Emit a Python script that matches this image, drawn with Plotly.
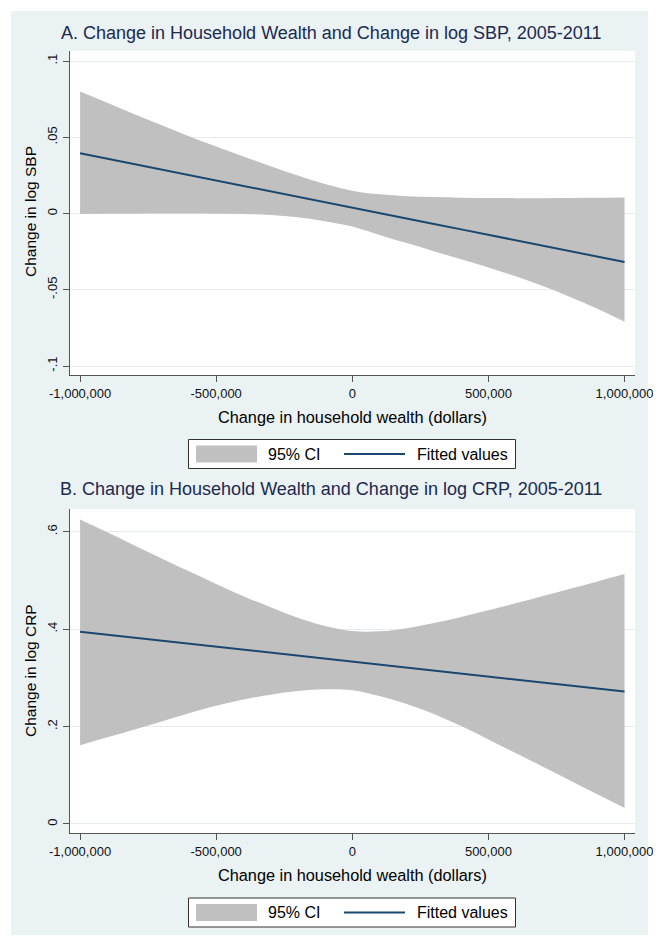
import plotly.graph_objects as go

W, H = 661, 946
OFF = 8  # page margin of the browser body

# change in household wealth (dollars)
wealth = [-1000000, -900000, -800000, -700000, -600000, -500000, -400000,
          -300000, -200000, -100000, 0, 100000, 200000, 300000, 400000,
          500000, 600000, 700000, 800000, 900000, 1000000]

# panel A: change in log SBP
sbp_fit = [0.0395, 0.0359, 0.0323, 0.0288, 0.0252, 0.0216, 0.0180, 0.0145,
           0.0109, 0.0074, 0.0038, 0.0002, -0.0033, -0.0069, -0.0104, -0.0140,
           -0.0176, -0.0211, -0.0247, -0.0283, -0.0318]
sbp_hi = [0.0800, 0.0726, 0.0652, 0.0579, 0.0507, 0.0439, 0.0374, 0.0310,
          0.0250, 0.0194, 0.0150, 0.0126, 0.0114, 0.0108, 0.0104, 0.0102,
          0.0101, 0.0101, 0.0102, 0.0103, 0.0105]
sbp_lo = [-0.0003, -0.0002, -0.0001, 0.0000, 0.0000, -0.0001, -0.0003, -0.0010,
          -0.0025, -0.0050, -0.0085, -0.0140, -0.0194, -0.0247, -0.0300, -0.0354,
          -0.0412, -0.0476, -0.0547, -0.0625, -0.0710]

# panel B: change in log CRP
crp_fit = [0.3948, 0.3887, 0.3825, 0.3764, 0.3702, 0.3641, 0.3580, 0.3518,
           0.3457, 0.3395, 0.3334, 0.3273, 0.3211, 0.3150, 0.3088, 0.3027,
           0.2966, 0.2904, 0.2843, 0.2781, 0.2720]
crp_hi = [0.6250, 0.5987, 0.5717, 0.5449, 0.5186, 0.4927, 0.4677, 0.4450,
          0.4235, 0.4065, 0.3960, 0.3955, 0.4020, 0.4125, 0.4250, 0.4385,
          0.4530, 0.4680, 0.4830, 0.4980, 0.5130]
crp_lo = [0.1615, 0.1780, 0.1940, 0.2105, 0.2273, 0.2425, 0.2555, 0.2655,
          0.2730, 0.2765, 0.2745, 0.2625, 0.2465, 0.2260, 0.2010, 0.1735,
          0.1455, 0.1175, 0.0893, 0.0610, 0.0330]

x_ticks = [-1000000, -500000, 0, 500000, 1000000]
x_ticktext = ["-1,000,000", "-500,000", "0", "500,000", "1,000,000"]
sbp_ticks = [-0.1, -0.05, 0, 0.05, 0.1]
sbp_ticktext = ["-.1", "-.05", "0", ".05", ".1"]
crp_ticks = [0, 0.2, 0.4, 0.6]
crp_ticktext = ["0", ".2", ".4", ".6"]

BAND = "#c0c0c0"
NAVY = "#1a476f"
BG = "#eaf2f3"
AXIS = "#555555"
FONT = "Liberation Sans"


def px_x(p):
    return (p - OFF) / W


def px_y(p):
    return 1 - (p - OFF) / H


fig = go.Figure()


def add_panel(xa, ya, lo, hi, fit):
    fig.add_trace(go.Scatter(x=wealth, y=lo, mode="lines", line=dict(width=0, shape="spline"),
                             xaxis=xa, yaxis=ya, showlegend=False, hoverinfo="skip"))
    fig.add_trace(go.Scatter(x=wealth, y=hi, mode="lines", line=dict(width=0, shape="spline"),
                             fill="tonexty", fillcolor=BAND, xaxis=xa, yaxis=ya,
                             name="95% CI", showlegend=False))
    fig.add_trace(go.Scatter(x=wealth, y=fit, mode="lines", line=dict(color=NAVY, width=2),
                             xaxis=xa, yaxis=ya, name="Fitted values", showlegend=False))


add_panel("x", "y", sbp_lo, sbp_hi, sbp_fit)
add_panel("x2", "y2", crp_lo, crp_hi, crp_fit)

xdom = [px_x(70), px_x(635)]
dom_a = [px_y(375), px_y(50.7)]
dom_b = [px_y(833), px_y(509)]

axis_common = dict(showline=True, linecolor=AXIS, linewidth=1, ticks="outside",
                   ticklen=6, tickcolor=AXIS, tickwidth=1, zeroline=False, automargin=False,
                   tickfont=dict(family=FONT, size=13, color="#111111"))
xcommon = dict(axis_common, range=[-1037000, 1038500], tickvals=x_ticks,
               ticktext=x_ticktext, showgrid=False, domain=xdom)
ycommon = dict(axis_common, showgrid=True, gridcolor="#e4edf0", gridwidth=1,
               tickangle=-90, ticklabelstandoff=1)

shapes = [
    dict(type="rect", xref="paper", yref="paper", x0=px_x(11), x1=px_x(648),
         y0=px_y(935), y1=px_y(11), fillcolor=BG, line=dict(width=0), layer="below"),
    dict(type="rect", xref="paper", yref="paper", x0=xdom[0], x1=xdom[1],
         y0=dom_a[0], y1=dom_a[1], fillcolor="white", line=dict(width=0), layer="below"),
    dict(type="rect", xref="paper", yref="paper", x0=xdom[0], x1=xdom[1],
         y0=dom_b[0], y1=dom_b[1], fillcolor="white", line=dict(width=0), layer="below"),
]
annotations = []


def add_text(text, x, y, size, color="#000000", angle=0, xanchor="center"):
    annotations.append(dict(text=text, x=px_x(x), y=px_y(y), xref="paper", yref="paper",
                            showarrow=False, xanchor=xanchor, yanchor="middle",
                            textangle=angle, font=dict(family=FONT, size=size, color=color)))


def add_legend(top, bottom):
    mid = (top + bottom) / 2
    shapes.append(dict(type="rect", xref="paper", yref="paper", x0=px_x(188.5), x1=px_x(515.5),
                       y0=px_y(bottom), y1=px_y(top), fillcolor="white",
                       line=dict(color="#333333", width=1)))
    shapes.append(dict(type="rect", xref="paper", yref="paper", x0=px_x(196), x1=px_x(257),
                       y0=px_y(mid + 8.5), y1=px_y(mid - 8.5), fillcolor=BAND, line=dict(width=0)))
    shapes.append(dict(type="line", xref="paper", yref="paper", x0=px_x(344), x1=px_x(405),
                       y0=px_y(mid), y1=px_y(mid), line=dict(color=NAVY, width=2)))
    add_text("95% CI", 265.5, mid, 16, xanchor="left")
    add_text("Fitted values", 414.5, mid, 16, xanchor="left")


add_text("A. Change in Household Wealth and Change in log SBP, 2005-2011", 331, 33, 18, "#1c2a50")
add_text("Change in log SBP", 30, 212, 15.5, angle=-90)
add_text("Change in household wealth (dollars)", 352, 416.7, 16.3)
add_legend(439.5, 468.5)

add_text("B. Change in Household Wealth and Change in log CRP, 2005-2011", 331, 489, 18, "#1c2a50")
add_text("Change in log CRP", 30, 671, 15.5, angle=-90)
add_text("Change in household wealth (dollars)", 352, 875, 16.3)
add_legend(898, 927)

fig.update_layout(
    width=W, height=H, autosize=False,
    margin=dict(l=0, r=0, t=0, b=0, pad=0),
    paper_bgcolor="white", plot_bgcolor="rgba(0,0,0,0)",
    showlegend=False,
    xaxis=dict(xcommon, anchor="y"),
    yaxis=dict(ycommon, domain=dom_a, range=[-0.1059, 0.1068], tickvals=sbp_ticks,
               ticktext=sbp_ticktext, anchor="x"),
    xaxis2=dict(xcommon, anchor="y2"),
    yaxis2=dict(ycommon, domain=dom_b, range=[-0.0185, 0.6466], tickvals=crp_ticks,
                ticktext=crp_ticktext, anchor="x2"),
    shapes=shapes,
    annotations=annotations,
)

fig.write_html("out.html")
